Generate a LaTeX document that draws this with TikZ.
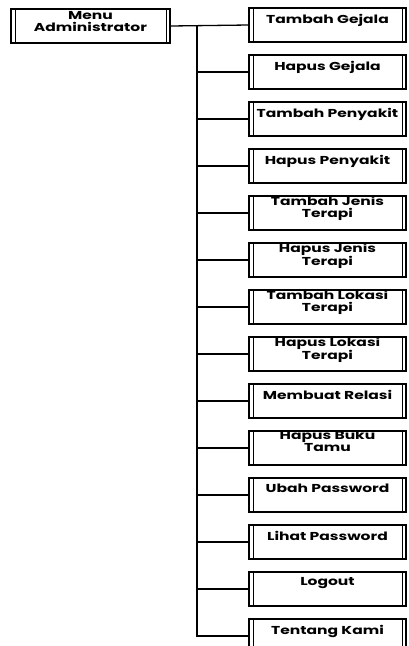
\documentclass[tikz,border=0pt]{standalone}
\usepackage{fontspec}
\newfontfamily\boxfont[FakeStretch=1.35]{Poppins}
\usetikzlibrary{positioning}

\begin{document}
\begin{tikzpicture}[
    x=1pt, y=-1pt,
    line width=1.3pt,
    node distance=11.5pt,
    % estilo de las cajas (proceso predefinido: doble linea a los lados)
    menubox/.style={draw, line width=1.5pt, minimum width=157pt, minimum height=34pt, inner sep=0pt,
        path picture={
            \draw[line width=0.6pt] ([xshift=4pt]path picture bounding box.north west) -- ([xshift=4pt]path picture bounding box.south west);
            \draw[line width=0.6pt] ([xshift=-4pt]path picture bounding box.north east) -- ([xshift=-4pt]path picture bounding box.south east);
        }},
    boxtext/.style={anchor=north, inner sep=0pt, align=center, yshift=-6pt,
        font=\boxfont\bfseries\fontsize{11.5}{12}\selectfont},
    boxtexttwo/.style={boxtext, yshift=6pt}
]
    \useasboundingbox (0,0) rectangle (408,646);

    % --- 1. MENU PRINCIPAL ---
    \node[menubox, minimum width=159pt, label={[boxtexttwo, yshift=-3pt]north:Menu\\Administrator}] (menu) at (90.5,26) {};

    % --- 2. SUBMENUS (columna derecha) ---
    \node[menubox, label={[boxtext]north:Tambah Gejala}] (tgejala) at (327.5,25) {};
    \node[menubox, below=of tgejala, label={[boxtext]north:Hapus Gejala}] (hgejala) {};
    \node[menubox, below=of hgejala, label={[boxtext]north:Tambah Penyakit}] (tpenyakit) {};
    \node[menubox, below=of tpenyakit, label={[boxtext]north:Hapus Penyakit}] (hpenyakit) {};
    \node[menubox, below=of hpenyakit, label={[boxtexttwo]north:Tambah Jenis\\Terapi}] (tjenis) {};
    \node[menubox, below=of tjenis, label={[boxtexttwo]north:Hapus Jenis\\Terapi}] (hjenis) {};
    \node[menubox, below=of hjenis, label={[boxtexttwo]north:Tambah Lokasi\\Terapi}] (tlokasi) {};
    \node[menubox, below=of tlokasi, label={[boxtexttwo]north:Hapus Lokasi\\Terapi}] (hlokasi) {};
    \node[menubox, below=of hlokasi, label={[boxtext]north:Membuat Relasi}] (relasi) {};
    \node[menubox, below=of relasi, label={[boxtexttwo]north:Hapus Buku\\Tamu}] (bukutamu) {};
    \node[menubox, below=of bukutamu, label={[boxtext]north:Ubah Password}] (ubahpass) {};
    \node[menubox, below=of ubahpass, label={[boxtext]north:Lihat Password}] (lihatpass) {};
    \node[menubox, below=of lihatpass, label={[boxtext]north:Logout}] (logout) {};
    \node[menubox, below=of logout, label={[boxtext]north:Tentang Kami}] (tentang) {};

    % --- 3. CONEXIONES ---
    \coordinate (trunk) at (197,26);
    \draw (menu.east) -- (tgejala.west);
    \draw (trunk) |- (hgejala.west);
    \draw (trunk) |- (tpenyakit.west);
    \draw (trunk) |- (hpenyakit.west);
    \draw (trunk) |- (tjenis.west);
    \draw (trunk) |- (hjenis.west);
    \draw (trunk) |- (tlokasi.west);
    \draw (trunk) |- (hlokasi.west);
    \draw (trunk) |- (relasi.west);
    \draw (trunk) |- (bukutamu.west);
    \draw (trunk) |- (ubahpass.west);
    \draw (trunk) |- (lihatpass.west);
    \draw (trunk) |- (logout.west);
    \draw (trunk) |- (tentang.west);
\end{tikzpicture}
\end{document}
